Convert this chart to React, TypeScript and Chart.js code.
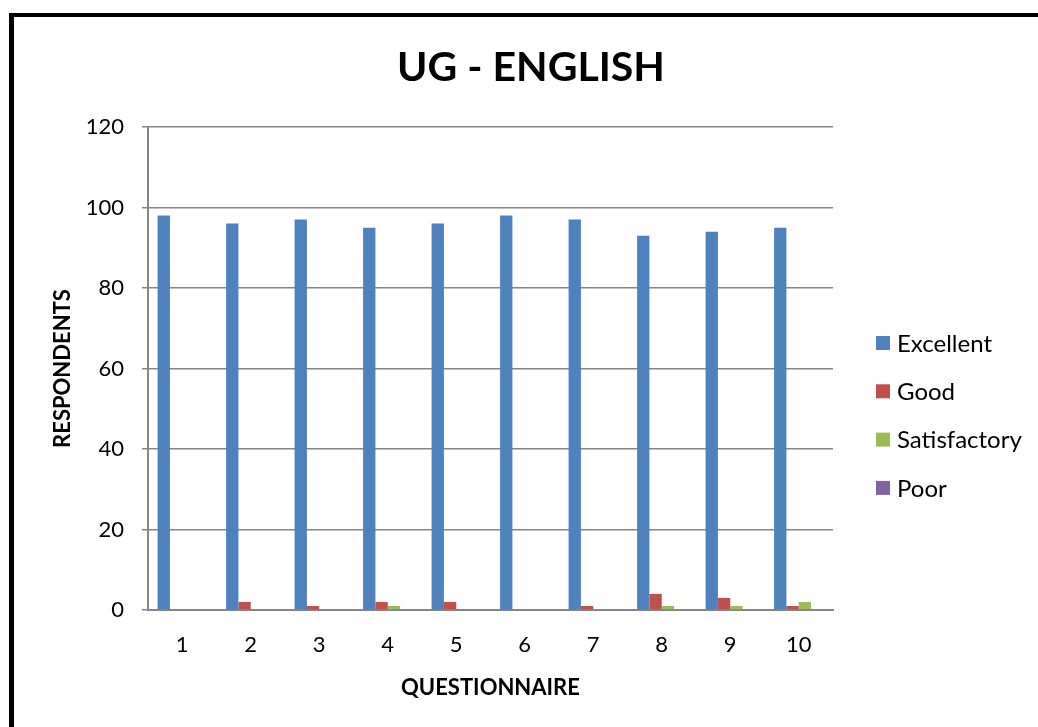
import React, { useEffect, useRef } from "react";
import { Chart, registerables } from "chart.js";

Chart.register(...registerables);

const titleText = "UG - ENGLISH";
const categories = ["1", "2", "3", "4", "5", "6", "7", "8", "9", "10"];
const seriesNames = ["Excellent", "Good", "Satisfactory", "Poor"];
const excellent = [98, 96, 97, 95, 96, 98, 97, 93, 94, 95];
const good = [0, 2, 1, 2, 2, 0, 1, 4, 3, 1];
const satisfactory = [0, 0, 0, 1, 0, 0, 0, 1, 1, 2];
const poor = [0, 0, 0, 0, 0, 0, 0, 0, 0, 0];
const colors = ["#4F81BD", "#C0504D", "#9BBB59", "#8064A2"];

const FONT = "Lato, 'Open Sans', sans-serif";

const decorPlugin = {
  id: "decor",
  afterDraw(chart: any) {
    const ctx = chart.ctx;
    ctx.save();
    // title
    ctx.font = `bold 41px ${FONT}`;
    ctx.fillStyle = "#000";
    ctx.textAlign = "center";
    ctx.textBaseline = "middle";
    ctx.fillText(titleText, 517, 51);
    // legend
    const x0 = chart.chartArea.right + 43;
    const yStart = 326;
    const step = 48.3;
    ctx.font = `24px ${FONT}`;
    ctx.textAlign = "left";
    chart.data.datasets.forEach((ds: any, i: number) => {
      const y = yStart + i * step;
      ctx.fillStyle = ds.backgroundColor;
      ctx.fillRect(x0, y - 7, 14, 14);
      ctx.fillStyle = "#000";
      ctx.fillText(ds.label, x0 + 21, y + 1);
    });
    ctx.restore();
  },
};

export default function App() {
  const ref = useRef<HTMLCanvasElement>(null);
  useEffect(() => {
    if (!ref.current) return;
    const values = [excellent, good, satisfactory, poor];
    const chart = new Chart(ref.current, {
      type: "bar",
      data: {
        labels: categories,
        datasets: seriesNames.map((name, i) => ({
          label: name,
          data: values[i],
          backgroundColor: colors[i],
          borderWidth: 0,
          categoryPercentage: 0.72,
          barPercentage: 1.0,
        })),
      },
      options: {
        animation: false,
        responsive: false,
        devicePixelRatio: 1,
        layout: { padding: { left: 0, right: 205, top: 110, bottom: 0 } },
        plugins: {
          legend: { display: false },
          tooltip: { enabled: false },
          title: { display: false },
        },
        scales: {
          x: {
            grid: { display: false, drawTicks: false },
            border: { display: true, color: "#868686", width: 2 },
            ticks: { color: "#000", font: { family: FONT, size: 22 }, padding: 22 },
            title: {
              display: true,
              text: "QUESTIONNAIRE",
              color: "#000",
              font: { family: FONT, size: 22, weight: "bold" },
              padding: { top: 4, bottom: 26 },
            },
            afterFit: (s: any) => {
              s.height = 117;
            },
          },
          y: {
            min: 0,
            max: 120,
            ticks: { stepSize: 20, color: "#000", font: { family: FONT, size: 22 }, padding: 18 },
            grid: { color: "#868686", lineWidth: 1.5, tickLength: 6 },
            border: { display: true, color: "#868686", width: 2 },
            title: {
              display: true,
              text: "RESPONDENTS",
              color: "#000",
              font: { family: FONT, size: 22, weight: "bold" },
              padding: { top: 36, bottom: 4 },
            },
            afterFit: (s: any) => {
              s.width = 134;
            },
          },
        },
      },
      plugins: [decorPlugin],
    });
    return () => chart.destroy();
  }, []);

  return (
    <div
      style={{
        position: "absolute",
        left: 9,
        top: 13,
        width: 1024,
        height: 710,
        borderLeft: "5px solid #000",
        borderTop: "4px solid #000",
        background: "#fff",
      }}
    >
      <canvas ref={ref} width={1024} height={710} style={{ width: 1024, height: 710, display: "block" }} />
    </div>
  );
}
